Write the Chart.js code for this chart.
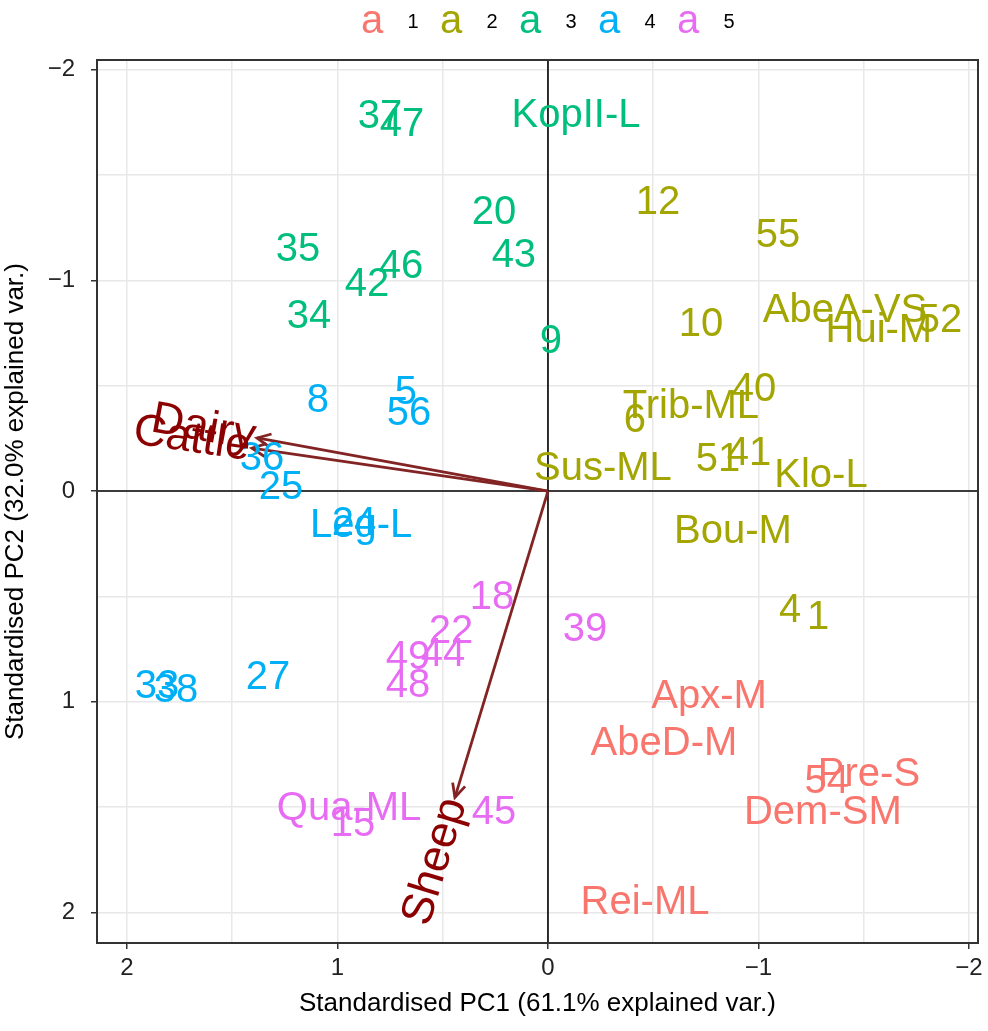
<!DOCTYPE html>
<html>
<head>
<meta charset="utf-8">
<script src="https://cdn.jsdelivr.net/npm/chart.js@4.4.1/dist/chart.umd.min.js"></script>
<style>
html, body { margin: 0; padding: 0; background: #fff; }
#chart { display: block; }
</style>
</head>
<body>
<canvas id="chart" width="988" height="1031"></canvas>
<script>
// group scores (standardised PC1 / PC2)
const groupNames = ['1', '2', '3', '4', '5'];
const groupColors = ['#F8766D', '#A3A500', '#00BF7D', '#00B0F6', '#E76BF3'];

const g1Labels = ['Apx-M', 'AbeD-M', 'Pre-S', '54', 'Dem-SM', 'Rei-ML'];
const g1PC1 = [-0.765, -0.551, -1.525, -1.325, -1.306, -0.461];
const g1PC2 = [0.978, 1.201, 1.348, 1.381, 1.528, 1.955];

const g2Labels = ['12', '55', '10', 'AbeA-VS', 'Hui-M', '52', 'Trib-ML', '40', '6', 'Sus-ML', '51', '41', 'Klo-L', 'Bou-M', '4', '1'];
const g2PC1 = [-0.523, -1.093, -0.727, -1.411, -1.572, -1.862, -0.679, -0.979, -0.413, -0.261, -0.808, -0.955, -1.297, -0.879, -1.150, -1.283];
const g2PC2 = [-1.367, -1.210, -0.788, -0.854, -0.759, -0.807, -0.399, -0.479, -0.332, -0.104, -0.147, -0.176, -0.071, 0.195, 0.570, 0.603];

const g3Labels = ['37', '47', 'KopII-L', '20', '43', '35', '46', '42', '34', '9'];
const g3PC1 = [0.798, 0.694, -0.133, 0.257, 0.162, 1.188, 0.698, 0.860, 1.135, -0.014];
const g3PC2 = [-1.775, -1.737, -1.780, -1.319, -1.115, -1.144, -1.063, -0.978, -0.826, -0.707];

const g4Labels = ['8', '5', '56', '36', '25', 'Leg-L', '24', '27', '33', '38'];
const g4PC1 = [1.093, 0.675, 0.660, 1.359, 1.268, 0.888, 0.922, 1.330, 1.857, 1.767];
const g4PC2 = [-0.427, -0.465, -0.365, -0.152, -0.014, 0.166, 0.157, 0.888, 0.930, 0.949];

const g5Labels = ['18', '22', '44', '49', '48', '39', 'Qua-ML', '15', '45'];
const g5PC1 = [0.266, 0.461, 0.499, 0.665, 0.665, -0.176, 0.945, 0.926, 0.257];
const g5PC2 = [0.508, 0.669, 0.778, 0.793, 0.925, 0.660, 1.509, 1.585, 1.528];

// variable loadings (arrows)
const varNames = ['Dairy', 'Cattle', 'Sheep'];
const varPC1 = [1.382, 1.406, 0.442];
const varPC2 = [-0.252, -0.204, 1.454];

const FONT = "'Liberation Sans', Arial, sans-serif";
const ARROW_COL = '#832424';
const VAR_COL = '#8B0000';

const groups = [
  [g1Labels, g1PC1, g1PC2],
  [g2Labels, g2PC1, g2PC2],
  [g3Labels, g3PC1, g3PC2],
  [g4Labels, g4PC1, g4PC2],
  [g5Labels, g5PC1, g5PC2]
];

const datasets = [];
varNames.forEach((name, i) => {
  datasets.push({
    label: name,
    isArrow: true,
    data: [{x: 0, y: 0}, {x: varPC1[i], y: varPC2[i]}],
    showLine: true,
    borderColor: ARROW_COL,
    borderWidth: 2.8,
    pointRadius: 0
  });
});
groups.forEach(([labels, pc1, pc2], i) => {
  datasets.push({
    label: groupNames[i],
    pointLabels: labels,
    color: groupColors[i],
    data: labels.map((_, j) => ({x: pc1[j], y: pc2[j]})),
    pointRadius: 0
  });
});

function fmt(v) {
  if (!Number.isInteger(v)) return '';
  return v < 0 ? '\u2212' + Math.abs(v) : String(v);
}

const biplot = {
  id: 'biplot',
  beforeDatasetsDraw(chart) {
    const {ctx, chartArea: a, scales: {x, y}} = chart;
    const x0 = x.getPixelForValue(0), y0 = y.getPixelForValue(0);
    ctx.save();
    ctx.strokeStyle = '#000';
    ctx.lineWidth = 1.6;
    ctx.beginPath();
    ctx.moveTo(a.left, y0); ctx.lineTo(a.right, y0);
    ctx.moveTo(x0, a.top); ctx.lineTo(x0, a.bottom);
    ctx.stroke();
    ctx.restore();
  },
  afterDatasetsDraw(chart) {
    const {ctx, chartArea: a} = chart;
    ctx.save();
    // arrow heads
    chart.data.datasets.forEach((ds, i) => {
      if (!ds.isArrow) return;
      const m = chart.getDatasetMeta(i).data;
      const p0 = m[0], p1 = m[1];
      const ang = Math.atan2(p1.y - p0.y, p1.x - p0.x);
      const len = 15;
      ctx.strokeStyle = ARROW_COL;
      ctx.lineWidth = 2.8;
      ctx.beginPath();
      ctx.moveTo(p1.x - len * Math.cos(ang - Math.PI / 7), p1.y - len * Math.sin(ang - Math.PI / 7));
      ctx.lineTo(p1.x, p1.y);
      ctx.lineTo(p1.x - len * Math.cos(ang + Math.PI / 7), p1.y - len * Math.sin(ang + Math.PI / 7));
      ctx.stroke();
    });
    // point labels
    ctx.font = '40px ' + FONT;
    ctx.textAlign = 'center';
    ctx.textBaseline = 'middle';
    chart.data.datasets.forEach((ds, i) => {
      if (ds.isArrow) return;
      ctx.fillStyle = ds.color;
      chart.getDatasetMeta(i).data.forEach((pt, j) => {
        ctx.fillText(ds.pointLabels[j], pt.x, pt.y);
      });
    });
    // variable names
    ctx.font = '45px ' + FONT;
    ctx.fillStyle = VAR_COL;
    chart.data.datasets.forEach((ds, i) => {
      if (!ds.isArrow) return;
      const m = chart.getDatasetMeta(i).data;
      const p0 = m[0], p1 = m[1];
      let dx = p1.x - p0.x, dy = p1.y - p0.y;
      const d = Math.hypot(dx, dy);
      dx /= d; dy /= d;
      ctx.save();
      ctx.translate(p1.x + dx * 2, p1.y + dy * 2);
      if (dx < 0) {
        ctx.rotate(Math.atan2(-dy, -dx));
        ctx.textAlign = 'right';
      } else {
        ctx.rotate(Math.atan2(dy, dx));
        ctx.textAlign = 'left';
      }
      ctx.fillText(ds.label, 0, 0);
      ctx.restore();
    });
    // panel border
    ctx.strokeStyle = '#333';
    ctx.lineWidth = 2;
    ctx.strokeRect(a.left, a.top, a.right - a.left, a.bottom - a.top);
    ctx.restore();
  },
  afterDraw(chart) {
    const {ctx} = chart;
    ctx.save();
    ctx.textAlign = 'center';
    ctx.textBaseline = 'middle';
    groupNames.forEach((g, i) => {
      const cx = 372 + i * 79;
      ctx.font = '40px ' + FONT;
      ctx.fillStyle = groupColors[i];
      ctx.fillText('a', cx, 22);
      ctx.font = '20px ' + FONT;
      ctx.fillStyle = '#000';
      ctx.fillText(g, cx + 41, 22);
    });
    ctx.restore();
  }
};

new Chart(document.getElementById('chart'), {
  type: 'scatter',
  data: {datasets},
  options: {
    responsive: false,
    animation: false,
    devicePixelRatio: 1,
    layout: {padding: {top: 60, right: 10, left: 0, bottom: 0}},
    plugins: {legend: {display: false}, tooltip: {enabled: false}},
    scales: {
      x: {
        type: 'linear',
        reverse: true,
        min: -2.043,
        max: 2.1425,
        afterFit: (s) => { s.height = 88; },
        afterBuildTicks: (s) => {
          const t = [];
          for (let v = -2; v <= 2; v += 0.5) t.push({value: v});
          s.ticks = t;
        },
        ticks: {
          autoSkip: false,
          maxRotation: 0,
          padding: 5,
          color: '#222',
          font: {size: 24, family: FONT},
          callback: (v) => fmt(v)
        },
        grid: {
          color: '#E8E8E8',
          lineWidth: 1.5,
          tickLength: 6,
          tickWidth: 1.5,
          tickColor: (c) => Number.isInteger(c.tick.value) ? '#333' : 'rgba(0,0,0,0)'
        },
        border: {display: false},
        title: {
          display: true,
          text: 'Standardised PC1 (61.1% explained var.)',
          color: '#000',
          font: {size: 26, family: FONT},
          padding: {top: 0, bottom: 12}
        }
      },
      y: {
        type: 'linear',
        reverse: true,
        min: -2.046,
        max: 2.145,
        afterFit: (s) => { s.width = 97; },
        afterBuildTicks: (s) => {
          const t = [];
          for (let v = -2; v <= 2; v += 0.5) t.push({value: v});
          s.ticks = t;
        },
        ticks: {
          autoSkip: false,
          padding: 16,
          color: '#222',
          font: {size: 24, family: FONT},
          callback: (v) => fmt(v)
        },
        grid: {
          color: '#E8E8E8',
          lineWidth: 1.5,
          tickLength: 6,
          tickWidth: 1.5,
          tickColor: (c) => Number.isInteger(c.tick.value) ? '#333' : 'rgba(0,0,0,0)'
        },
        border: {display: false},
        title: {
          display: true,
          text: 'Standardised PC2 (32.0% explained var.)',
          color: '#000',
          font: {size: 26, family: FONT},
          padding: {top: 0, bottom: 0}
        }
      }
    }
  },
  plugins: [biplot]
});
</script>
</body>
</html>
